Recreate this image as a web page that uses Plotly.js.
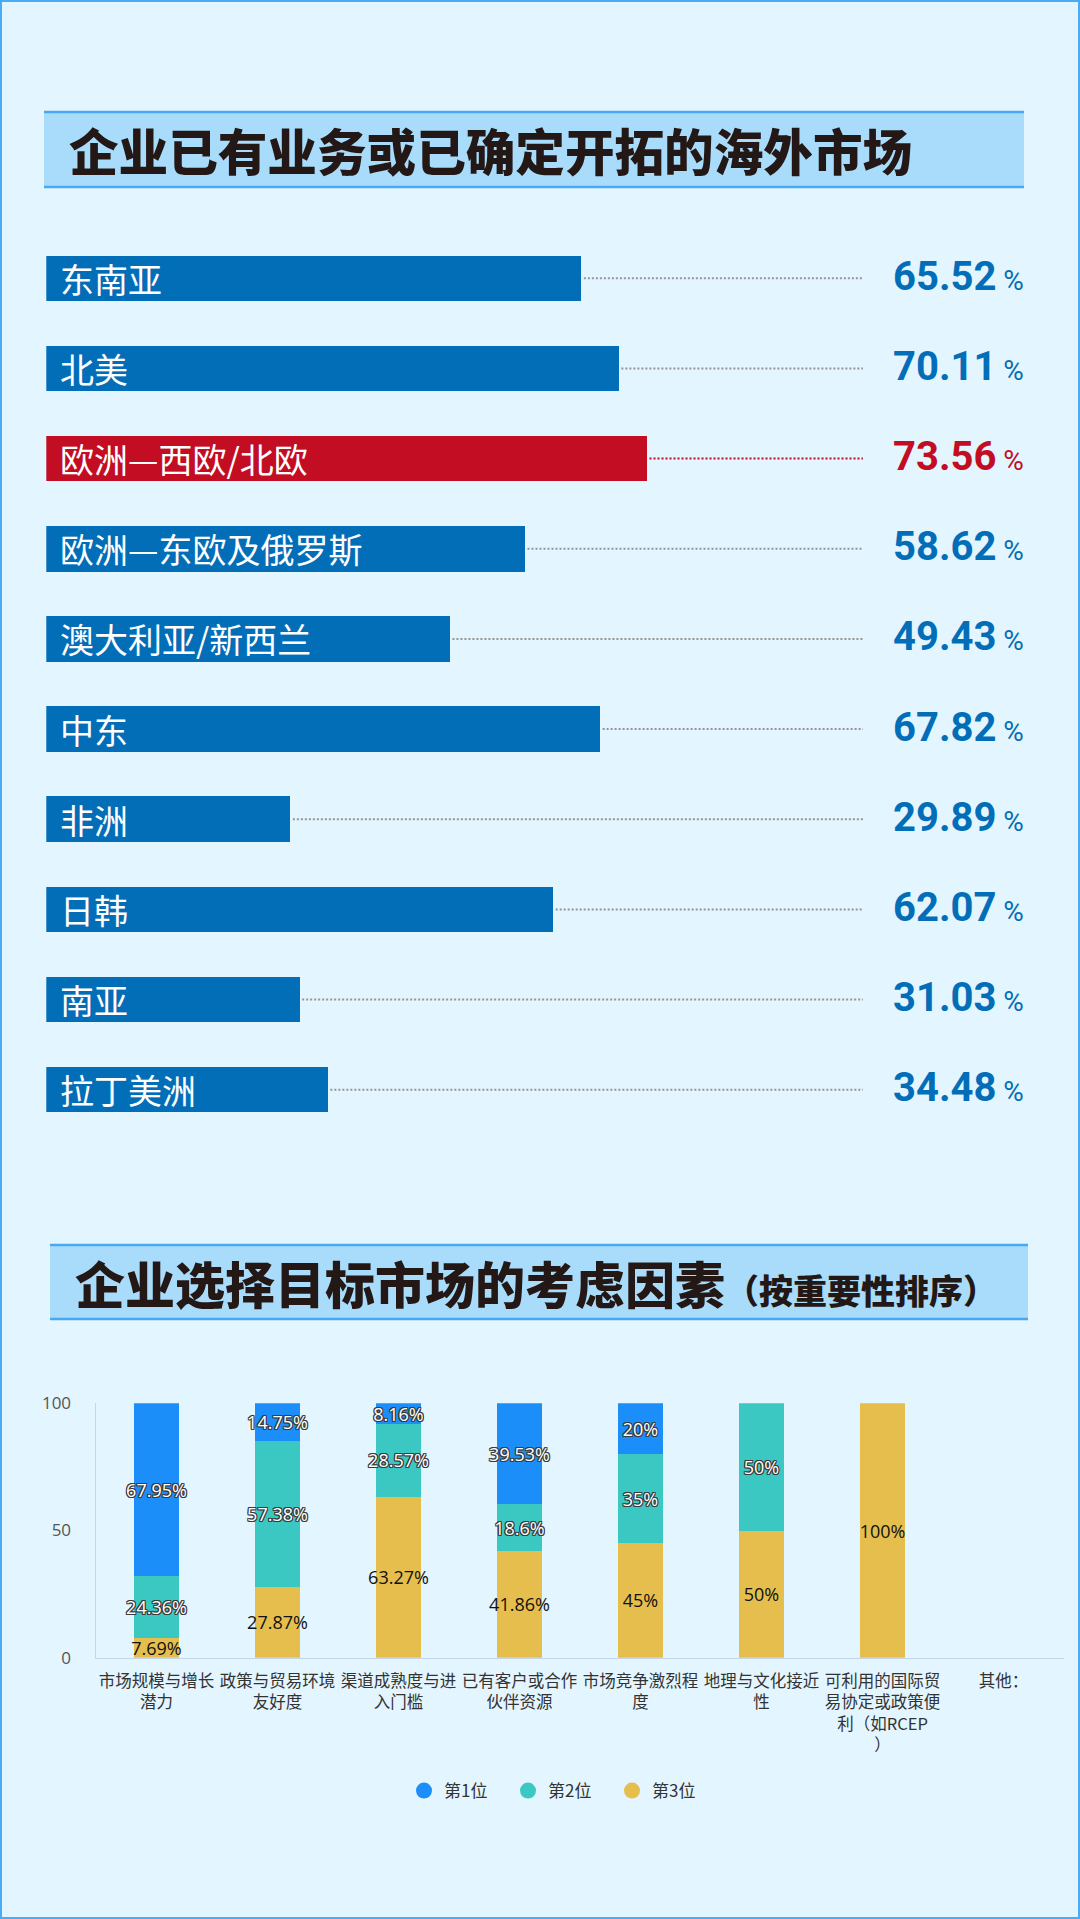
<!DOCTYPE html>
<html>
<head>
<meta charset="utf-8">
<script src="https://cdn.plot.ly/plotly-3.0.1.min.js"></script>
<style>
html,body{margin:0;padding:0;background:#e3f5fe;}
#chart{width:1080px;height:1919px;}
</style>
</head>
<body>
<div id="chart"></div>
<script>
// ---------- data: top chart ----------
const regions = ['东南亚','北美','欧洲—西欧/北欧','欧洲—东欧及俄罗斯','澳大利亚/新西兰','中东','非洲','日韩','南亚','拉丁美洲'];
const shares = [65.52, 70.11, 73.56, 58.62, 49.43, 67.82, 29.89, 62.07, 31.03, 34.48];

// ---------- data: bottom chart ----------
const factors = ['市场规模与增长<br>潜力','政策与贸易环境<br>友好度','渠道成熟度与进<br>入门槛','已有客户或合作<br>伙伴资源','市场竞争激烈程<br>度','地理与文化接近<br>性','可利用的国际贸<br>易协定或政策便<br>利（如RCEP<br>）','其他：'];
const rank1 = [67.95, 14.75, 8.16, 39.53, 20, 0, 0, 0];
const rank2 = [24.36, 57.38, 28.57, 18.6, 35, 50, 0, 0];
const rank3 = [7.69, 27.87, 63.27, 41.86, 45, 50, 100, 0];
const rankNames = ['第1位','第2位','第3位'];
const yTicks = [0, 50, 100];

const title1 = '企业已有业务或已确定开拓的海外市场';
const title2 = '企业选择目标市场的考虑因素';
const title2Sub = '（按重要性排序）';

// ---------- styles ----------
const W = 1080, H = 1919;
const px = x => x / W;
const py = y => 1 - y / H;
const BLUE = '#036eb8', RED = '#c30d23';
const C1 = '#1c8ef9', C2 = '#3bc8c3', C3 = '#e6be4e';
const CJK = '"Noto Sans CJK SC", "Noto Sans", sans-serif';
const maxShare = Math.max(...shares);
const barColors = shares.map(v => v === maxShare ? RED : BLUE);

const traces = [];
// horizontal bars
traces.push({
  type: 'bar', orientation: 'h', x: shares, y: regions,
  xaxis: 'x', yaxis: 'y', marker: {color: barColors, line: {width: 0}},
  hoverinfo: 'skip', showlegend: false
});
// dotted leader lines
function leader(filterFn, color) {
  const xs = [], ys = [];
  shares.forEach((v, i) => { if (filterFn(v)) { xs.push(v + 0.3, 100, null); ys.push(regions[i], regions[i], null); } });
  return {type: 'scatter', mode: 'lines', x: xs, y: ys, xaxis: 'x', yaxis: 'y',
    line: {color: color, width: 2, dash: '2px,2px'}, hoverinfo: 'skip', showlegend: false};
}
traces.push(leader(v => v !== maxShare, '#959595'));
traces.push(leader(v => v === maxShare, RED));

// stacked bars
const outline = '-1px -1px 0 #3a3a3a, 1px -1px 0 #3a3a3a, -1px 1px 0 #3a3a3a, 1px 1px 0 #3a3a3a, 0 1px 0 #3a3a3a, 0 -1px 0 #3a3a3a, 1px 0 0 #3a3a3a, -1px 0 0 #3a3a3a';
function stackTrace(vals, color, txtColor, shadow) {
  return {
    type: 'bar', x: factors, y: vals, xaxis: 'x2', yaxis: 'y2',
    width: factors.map(() => 0.372),
    marker: {color: color, line: {width: 0}},
    text: vals.map(v => v > 0 ? v + '%' : ''),
    textposition: 'inside', insidetextanchor: 'middle', textangle: 0,
    constraintext: 'none', cliponaxis: false,
    textfont: {family: '"Open Sans", "Noto Sans", sans-serif', size: 18, color: txtColor, shadow: shadow},
    hoverinfo: 'skip', showlegend: false
  };
}
traces.push(stackTrace(rank3, C3, '#111', 'none'));
traces.push(stackTrace(rank2, C2, '#ffffff', outline));
traces.push(stackTrace(rank1, C1, '#ffffff', outline));
// legend entries (circles)
[C1, C2, C3].forEach((c, i) => {
  traces.push({type: 'scatter', mode: 'markers', x: [null], y: [null], xaxis: 'x2', yaxis: 'y2',
    name: rankNames[i], marker: {color: c, size: 16, symbol: 'circle'}, hoverinfo: 'skip', showlegend: true});
});

// ---------- annotations ----------
const annotations = [];
regions.forEach((r, i) => {
  annotations.push({xref: 'x', yref: 'y', x: 0, y: r, xanchor: 'left', yanchor: 'middle', xshift: 12,
    text: r, showarrow: false, font: {family: CJK, size: 34, color: '#ffffff'}});
  const col = barColors[i];
  annotations.push({xref: 'paper', yref: 'y', x: px(1026), y: r, xanchor: 'right', yanchor: 'middle', yshift: 2,
    text: '<b>' + shares[i].toFixed(2) + '</b><span style="font-size:28px"> %</span>', showarrow: false,
    font: {family: 'Roboto, "Liberation Sans", sans-serif', size: 40, color: col}});
});
annotations.push({xref: 'paper', yref: 'paper', x: px(67), y: py(149), xanchor: 'left', yanchor: 'middle',
  text: title1, showarrow: false, font: {family: CJK, size: 49.6, color: '#231815', weight: 900}});
annotations.push({xref: 'paper', yref: 'paper', x: px(73), y: py(1282), xanchor: 'left', yanchor: 'middle',
  text: title2 + '<span style="font-size:34px">' + title2Sub + '</span>', showarrow: false,
  font: {family: CJK, size: 50, color: '#231815', weight: 900}});

// ---------- shapes ----------
const shapes = [
  {type: 'rect', xref: 'paper', yref: 'paper', x0: px(44), x1: px(1024), y0: py(187), y1: py(112), fillcolor: '#a9dcfb', line: {width: 0}, layer: 'below'},
  {type: 'line', xref: 'paper', yref: 'paper', x0: px(44), x1: px(1024), y0: py(112), y1: py(112), line: {color: '#48a8f4', width: 2.5}},
  {type: 'line', xref: 'paper', yref: 'paper', x0: px(44), x1: px(1024), y0: py(187), y1: py(187), line: {color: '#48a8f4', width: 2.5}},
  {type: 'rect', xref: 'paper', yref: 'paper', x0: px(50), x1: px(1028), y0: py(1319), y1: py(1245), fillcolor: '#a9dcfb', line: {width: 0}, layer: 'below'},
  {type: 'line', xref: 'paper', yref: 'paper', x0: px(50), x1: px(1028), y0: py(1245), y1: py(1245), line: {color: '#48a8f4', width: 2.5}},
  {type: 'line', xref: 'paper', yref: 'paper', x0: px(50), x1: px(1028), y0: py(1319), y1: py(1319), line: {color: '#48a8f4', width: 2.5}},
  {type: 'rect', xref: 'paper', yref: 'paper', x0: px(1), x1: px(1079), y0: py(1918), y1: py(1), line: {color: '#4aacf6', width: 2}, fillcolor: 'rgba(0,0,0,0)'}
];

const layout = {
  width: W, height: H,
  margin: {l: 0, r: 0, t: 0, b: 0},
  paper_bgcolor: '#e3f5fe', plot_bgcolor: 'rgba(0,0,0,0)',
  font: {family: CJK, color: '#333'},
  showlegend: true,
  barmode: 'stack',
  xaxis: {domain: [px(46.3), px(863)], range: [0, 100], visible: false, fixedrange: true},
  yaxis: {domain: [py(1134.8), py(233.2)], type: 'category', autorange: 'reversed', visible: false, fixedrange: true},
  xaxis2: {domain: [px(96), px(1064)], anchor: 'y2', type: 'category', showline: true, linecolor: '#c8d6ec', linewidth: 1.5,
    showgrid: false, ticks: 'outside', ticklen: 8, tickcolor: 'rgba(0,0,0,0)',
    tickfont: {family: CJK, size: 16.5, color: '#333'}, fixedrange: true},
  yaxis2: {domain: [py(1657.7), py(1403.3)], anchor: 'x2', range: [0, 100], tickvals: yTicks, ticktext: yTicks.map(String),
    showline: true, linecolor: '#c8d6ec', linewidth: 1.5, showgrid: false, zeroline: false,
    ticks: 'outside', ticklen: 20, tickcolor: 'rgba(0,0,0,0)',
    tickfont: {family: '"Open Sans", sans-serif', size: 17, color: '#555'}, fixedrange: true},
  bargap: 0.495,
  legend: {orientation: 'h', traceorder: 'normal', x: px(404), xanchor: 'left', y: py(1791), yanchor: 'middle',
    itemwidth: 24, entrywidth: 59, font: {family: CJK, size: 17, color: '#333'}, bgcolor: 'rgba(0,0,0,0)'},
  annotations: annotations,
  shapes: shapes
};

Plotly.newPlot('chart', traces, layout, {staticPlot: true, displayModeBar: false});
</script>
</body>
</html>
